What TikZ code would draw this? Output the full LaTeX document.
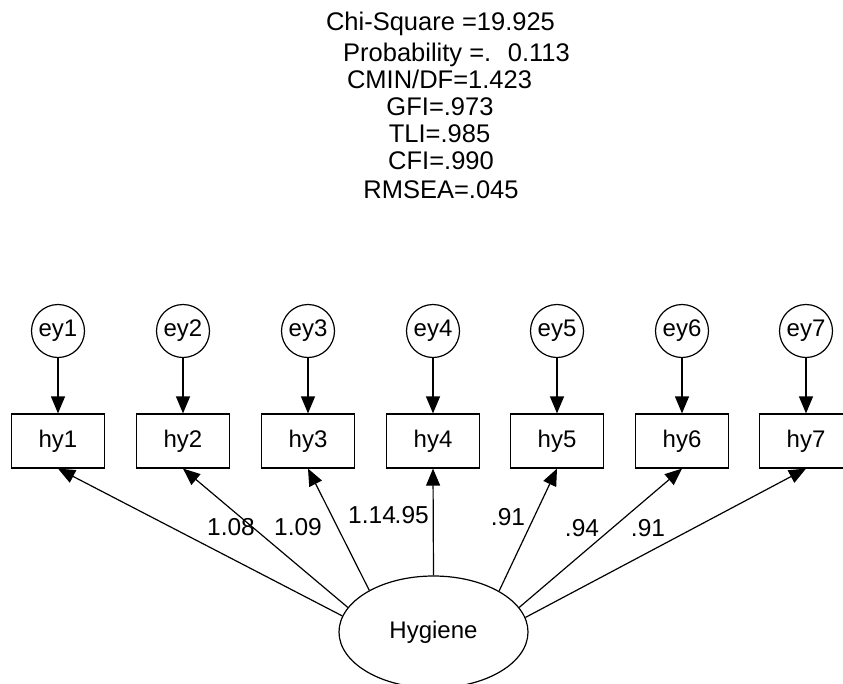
\documentclass[tikz,border=0pt]{standalone}
\usepackage{fontspec}
\setmainfont{Liberation Sans}
\usetikzlibrary{arrows.meta,shapes.geometric}

\begin{document}
\begin{tikzpicture}[x=1pt,y=-1pt,
  every node/.style={font=\fontsize{24}{28}\selectfont, inner sep=0pt},
  errc/.style={circle, draw, line width=1.2pt, minimum size=53pt},
  obsbox/.style={rectangle, draw, line width=1.2pt, minimum width=93pt, minimum height=54pt},
  latent/.style={ellipse, draw, line width=1.2pt, minimum width=189pt, minimum height=112pt},
  regarrow/.style={line width=1.2pt, -{Triangle[length=17pt,width=14pt]}},
  fitline/.style={anchor=base, font=\fontsize{25.5}{28}\selectfont},
  coef/.style={anchor=base, font=\fontsize{24.5}{28}\selectfont}
]
\useasboundingbox (0,0) rectangle (843,683);

% fit statistics
\node[fitline] (chisq) at (440.5,30) {Chi-Square =19.925};
\node[fitline, anchor=base west] (prob) at (343,61) {Probability =.};
\node[fitline, anchor=base east] (probv) at (570,61) {0.113};
\node[fitline] (cmin) at (439.5,88) {CMIN/DF=1.423};
\node[fitline] (gfi) at (440,115) {GFI=.973};
\node[fitline] (tli) at (439.5,142) {TLI=.985};
\node[fitline] (cfi) at (441,169) {CFI=.990};
\node[fitline] (rmsea) at (441,198) {RMSEA=.045};

% latent factor
\node[latent] (hyg) at (433.5,632) {Hygiene};

% indicators with their error terms
\foreach \i/\x in {1/58,2/183,3/308,4/433,5/557,6/682,7/806}{
  \node[errc] (ey\i) at (\x,331) {ey\i};
  \node[obsbox] (hy\i) at (\x,441) {hy\i};
  \draw[regarrow] (ey\i.south) -- (hy\i.north);
}

% loadings
\draw[regarrow] (hyg.170.6) -- (hy1.south);
\draw[regarrow] (hyg.164) -- (hy2.south);
\draw[regarrow] (hyg.147.8) -- (hy3.south);
\draw[regarrow] (hyg.north) -- (hy4.south);
\draw[regarrow] (hyg.32.2) -- (hy5.south);
\draw[regarrow] (hyg.16) -- (hy6.south);
\draw[regarrow] (hyg.9.4) -- (hy7.south);

\node[coef] (l1) at (231,535) {1.08};
\node[coef] (l2) at (298,535) {1.09};
\node[coef, anchor=base west] (l3) at (348,523) {1.14};
\node[coef, anchor=base east] (l4) at (429,523) {.95};
\node[coef] (l5) at (508,525) {.91};
\node[coef] (l6) at (582,536) {.94};
\node[coef] (l7) at (648,536) {.91};
\end{tikzpicture}
\end{document}
